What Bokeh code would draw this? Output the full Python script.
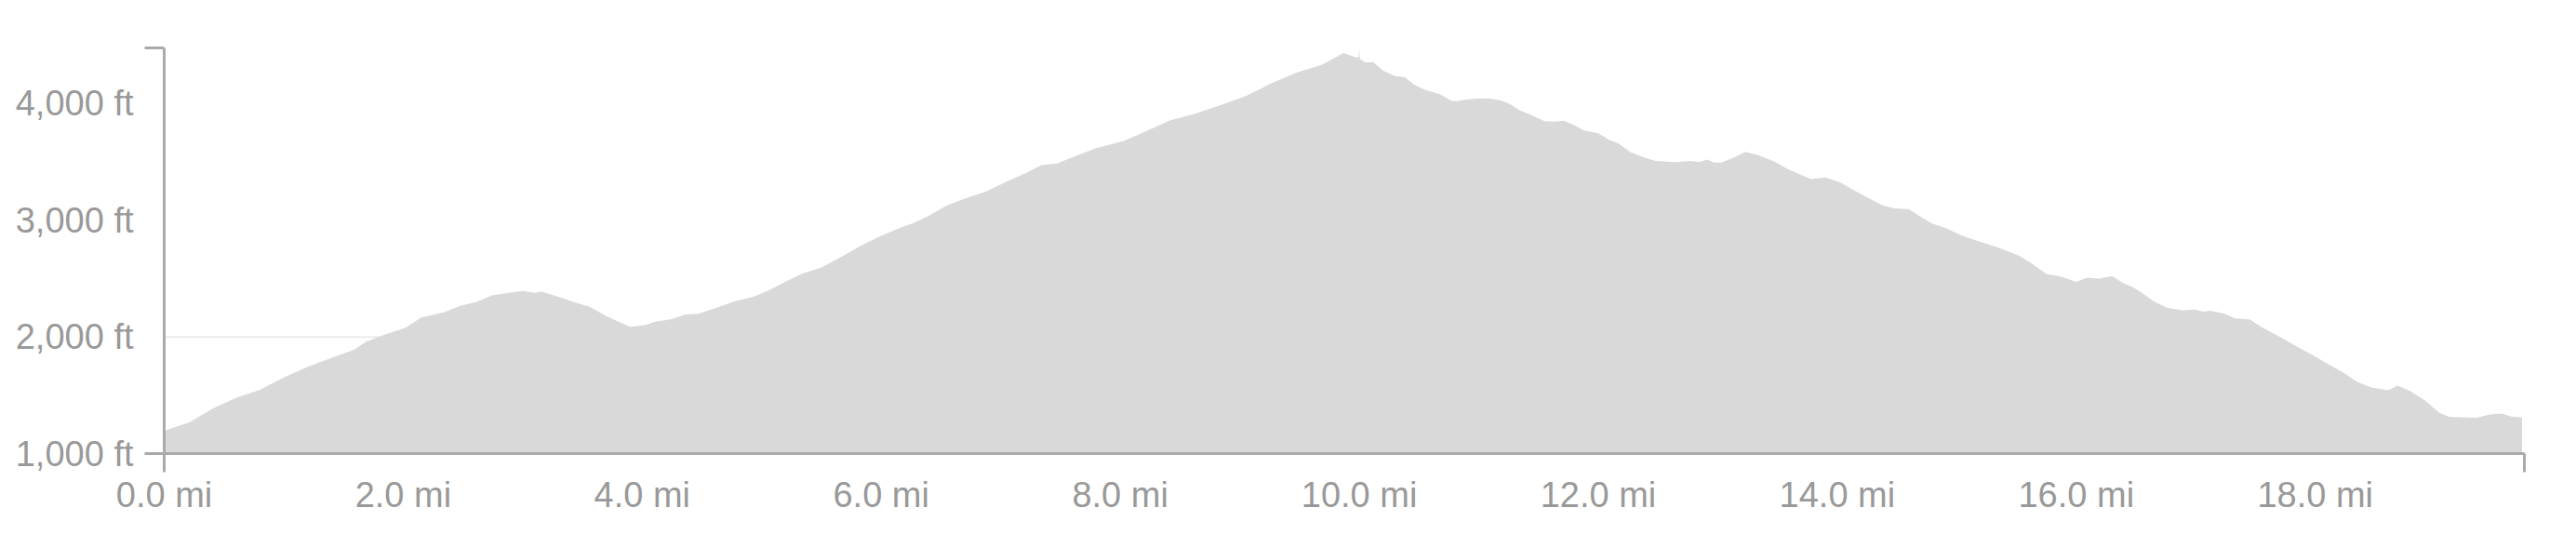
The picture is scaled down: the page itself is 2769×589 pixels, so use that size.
from bokeh.plotting import figure
from bokeh.models import FixedTicker, Range1d, ColumnDataSource
from bokeh.embed import file_html
from bokeh.resources import INLINE

# distance along route (miles) and elevation (feet)
dist = [0.00, 0.21, 0.41, 0.61, 0.80, 1.00, 1.21, 1.43, 1.59, 1.69, 1.82, 2.02, 2.15, 2.34,
        2.47, 2.61, 2.74, 2.87, 3.00, 3.10, 3.16, 3.30, 3.43, 3.56, 3.69, 3.80, 3.90, 4.02,
        4.11, 4.24, 4.36, 4.47, 4.60, 4.77, 4.93, 5.06, 5.18, 5.34, 5.50, 5.67, 5.83, 5.99,
        6.16, 6.26, 6.39, 6.55, 6.72, 6.88, 7.04, 7.21, 7.34, 7.47, 7.63, 7.80, 8.03, 8.19,
        8.42, 8.62, 8.85, 9.06, 9.27, 9.47, 9.68, 9.87, 9.97, 9.995, 10.00, 10.005, 10.05,
        10.12, 10.20, 10.30, 10.38, 10.46, 10.56, 10.67, 10.77, 10.82, 10.90, 10.98, 11.08,
        11.18, 11.26, 11.34, 11.45, 11.55, 11.63, 11.71, 11.80, 11.88, 12.00, 12.09, 12.17,
        12.27, 12.38, 12.48, 12.64, 12.77, 12.85, 12.91, 12.97, 13.03, 13.13, 13.23, 13.34,
        13.47, 13.60, 13.78, 13.90, 14.02, 14.19, 14.38, 14.48, 14.60, 14.68, 14.79, 14.92,
        15.03, 15.15, 15.34, 15.52, 15.62, 15.75, 15.88, 16.00, 16.09, 16.19, 16.30, 16.40,
        16.48, 16.58, 16.66, 16.76, 16.89, 16.99, 17.07, 17.12, 17.23, 17.33, 17.45, 17.56,
        17.70, 17.83, 18.01, 18.09, 18.24, 18.35, 18.47, 18.61, 18.69, 18.79, 18.92, 19.04,
        19.12, 19.35, 19.46, 19.56, 19.65, 19.73]
elev = [1195, 1268, 1388, 1481, 1547, 1653, 1747, 1831, 1892, 1959, 2012, 2078, 2166, 2211,
        2264, 2299, 2357, 2376, 2394, 2378, 2389, 2344, 2299, 2259, 2185, 2131, 2086, 2100,
        2131, 2150, 2193, 2198, 2243, 2304, 2344, 2400, 2464, 2543, 2596, 2689, 2782, 2862,
        2936, 2973, 3034, 3127, 3193, 3247, 3327, 3406, 3473, 3486, 3552, 3619, 3680, 3752,
        3858, 3911, 3991, 4070, 4177, 4265, 4330, 4434, 4397, 4400, 4478, 4385, 4355,
        4355, 4283, 4237, 4229, 4163, 4116, 4084, 4025, 4022, 4036, 4044, 4046,
        4030, 3998, 3946, 3898, 3850, 3845, 3853, 3815, 3770, 3746, 3691, 3659,
        3584, 3540, 3508, 3499, 3508, 3499, 3520, 3494, 3494, 3534, 3587, 3558,
        3504, 3433, 3353, 3367, 3327, 3229, 3127, 3101, 3096, 3042, 2974, 2928,
        2875, 2830, 2769, 2697, 2636, 2540, 2516, 2472, 2508, 2500, 2522, 2458,
        2424, 2357, 2299, 2251, 2229, 2235, 2217, 2225, 2203, 2158, 2150, 2078,
        2004, 1927, 1826, 1778, 1693, 1614, 1566, 1542, 1582, 1539, 1454, 1348,
        1316, 1308, 1335, 1343, 1316, 1311]

x_ticks = [0, 2, 4, 6, 8, 10, 12, 14, 16, 18]
x_labels = ["0.0 mi", "2.0 mi", "4.0 mi", "6.0 mi", "8.0 mi", "10.0 mi", "12.0 mi",
            "14.0 mi", "16.0 mi", "18.0 mi"]
y_ticks = [1000, 2000, 3000, 4000]
y_labels = ["1,000 ft", "2,000 ft", "3,000 ft", "4,000 ft"]

# faint horizontal guide at 2,000 ft, running from the start to the 2.0 mi mark
guide_elev = 2000
guide_dist = 2.0

X_END = 19.75
Y_START = 1000
Y_END = max(elev)

FONT = "Liberation Sans"
LABEL_COLOR = "#999999"
AXIS_COLOR = "#aaaaaa"

p = figure(frame_width=2537, frame_height=436, output_backend="svg", toolbar_location=None,
           x_range=Range1d(0, X_END), y_range=Range1d(Y_START, Y_END),
           min_border_left=176, min_border_top=51, min_border_right=40, min_border_bottom=75)
p.outline_line_color = None
p.background_fill_color = "white"
p.xgrid.grid_line_color = None
p.ygrid.grid_line_color = None

p.segment(x0=[x_ticks[0]], y0=[guide_elev], x1=[guide_dist], y1=[guide_elev],
          line_color="#ececec", line_width=2, level="underlay")

src = ColumnDataSource(dict(x=dist, top=elev, base=[Y_START] * len(dist)))
p.varea(x="x", y1="base", y2="top", source=src, fill_color="#d9d9d9")

p.xaxis.ticker = FixedTicker(ticks=x_ticks, minor_ticks=[0, X_END])
p.xaxis.major_label_overrides = {t: l for t, l in zip(x_ticks, x_labels)}
p.yaxis.ticker = FixedTicker(ticks=y_ticks, minor_ticks=[Y_START, Y_END])
p.yaxis.major_label_overrides = {t: l for t, l in zip(y_ticks, y_labels)}

for ax in (p.xaxis[0], p.yaxis[0]):
    ax.axis_line_color = AXIS_COLOR
    ax.axis_line_width = 3
    ax.major_tick_line_color = None
    ax.major_tick_out = 0
    ax.major_tick_in = 0
    ax.minor_tick_line_color = AXIS_COLOR
    ax.minor_tick_line_width = 3
    ax.minor_tick_in = 0
    ax.major_label_text_font = FONT
    ax.major_label_text_font_size = "38px"
    ax.major_label_text_color = LABEL_COLOR
p.xaxis.minor_tick_out = 20
p.yaxis.minor_tick_out = 21
p.xaxis.major_label_standoff = 3
p.yaxis.major_label_standoff = 12

open("out.html", "w").write(file_html(p, INLINE))
